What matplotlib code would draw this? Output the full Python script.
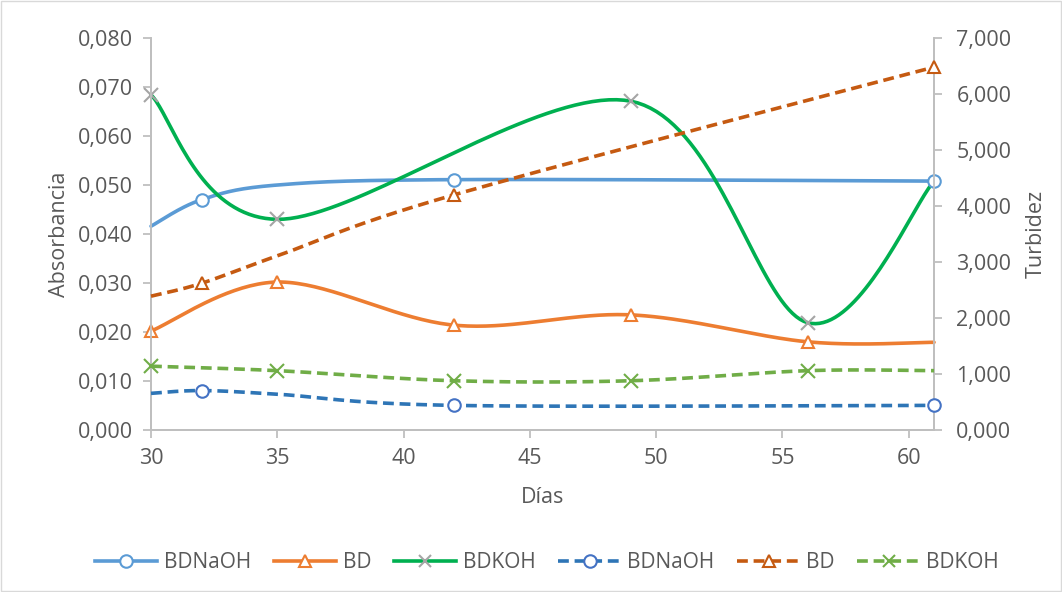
import numpy as np
import matplotlib
matplotlib.use("Agg")
import matplotlib.pyplot as plt
from matplotlib.patches import Rectangle

plt.rcParams['font.family'] = ['Open Sans', 'DejaVu Sans']

# Absorbancia (eje izquierdo)
x_naoh = [30, 32, 35, 42, 61]
abs_naoh = [0.0416, 0.0470, 0.0500, 0.0511, 0.0508]
mk_abs_naoh = [1, 3, 4]

x_bd = [30, 35, 42, 49, 56, 61]
abs_bd = [0.0202, 0.0302, 0.0214, 0.0235, 0.0180, 0.0179]
mk_abs_bd = [0, 1, 2, 3, 4]

x_koh = [30, 35, 49, 56, 61]
abs_koh = [0.0684, 0.0430, 0.0671, 0.0219, 0.0508]
mk_abs_koh = [0, 1, 2, 3]

# Turbidez (eje derecho)
x_tnaoh = [30, 32, 35, 42, 61]
tur_naoh = [655, 705, 640, 440, 440]
mk_tur_naoh = [1, 3, 4]

x_tbd = [30, 32, 35, 42, 61]
tur_bd = [2390, 2620, 3110, 4200, 6480]
mk_tur_bd = [1, 3, 4]

x_tkoh = [30, 35, 42, 49, 56, 61]
tur_koh = [1140, 1060, 880, 880, 1060, 1060]
mk_tur_koh = [0, 1, 2, 3, 4]

xlim = (30, 61)
ylim_abs = (0, 0.08)
ylim_tur = (0, 7000)


def smooth(x, y, sx, sy, n=40):
    # Excel-like smoothing (Bezier with 1/6 tension) in screen space
    p = np.column_stack([np.asarray(x, float) * sx, np.asarray(y, float) * sy])
    p = np.vstack([p[0], p, p[-1]])
    out = []
    t = np.linspace(0, 1, n)[:, None]
    for i in range(1, len(p) - 2):
        p0, p1, p2, p3 = p[i - 1], p[i], p[i + 1], p[i + 2]
        c1 = p1 + (p2 - p0) / 6
        c2 = p2 - (p3 - p1) / 6
        seg = ((1 - t) ** 3) * p1 + 3 * ((1 - t) ** 2) * t * c1 + 3 * (1 - t) * t ** 2 * c2 + t ** 3 * p2
        out.append(seg)
    out = np.vstack(out)
    return out[:, 0] / sx, out[:, 1] / sy


fig = plt.figure(figsize=(10.62, 5.92), dpi=100)
fig.patches.append(Rectangle((0.001, 0.001), 0.998, 0.997, transform=fig.transFigure,
                             fill=False, edgecolor='#D9D9D9', linewidth=1))
ax = fig.add_axes([0.1422, 0.2736, 0.7373, 0.6622])
ax2 = ax.twinx()

axw, axh = 783.0, 392.0
sx = axw / (xlim[1] - xlim[0])
sy1 = axh / ylim_abs[1]
sy2 = axh / ylim_tur[1]

series = [
    (ax, x_naoh, abs_naoh, mk_abs_naoh, sy1, '#5B9BD5', '-', 'o', '#5B9BD5', 'BDNaOH'),
    (ax, x_bd, abs_bd, mk_abs_bd, sy1, '#ED7D31', '-', '^', '#ED7D31', 'BD'),
    (ax, x_koh, abs_koh, mk_abs_koh, sy1, '#00B050', '-', 'x', '#A5A5A5', 'BDKOH'),
    (ax2, x_tnaoh, tur_naoh, mk_tur_naoh, sy2, '#2E75B6', '--', 'o', '#4472C4', 'BDNaOH'),
    (ax2, x_tbd, tur_bd, mk_tur_bd, sy2, '#C55A11', '--', '^', '#C55A11', 'BD'),
    (ax2, x_tkoh, tur_koh, mk_tur_koh, sy2, '#70AD47', '--', 'x', '#70AD47', 'BDKOH'),
]

handles = []
for a, xs, ys, mk, sy, col, ls, m, mcol, lab in series:
    xsm, ysm = smooth(xs, ys, sx, sy)
    a.plot(xsm, ysm, color=col, lw=2.6, ls=ls, dashes=(3, 1.6) if ls == '--' else (None, None),
           solid_capstyle='round', clip_on=False, zorder=3)
    mx = [xs[i] for i in mk]
    my = [ys[i] for i in mk]
    a.plot(mx, my, ls='none', marker=m, ms=9 if m != 'x' else 10, mfc='white' if m != 'x' else mcol,
           mec=mcol, mew=1.5, clip_on=False, zorder=4)
    h, = plt.plot([], [], color=col, lw=2.6, ls=ls, marker=m, ms=9, mfc='white', mec=mcol, mew=1.5,
                  label=lab)
    if ls == '--':
        h.set_dashes((3, 1.6))
    handles.append(h)

tick_col = '#595959'
for a in (ax, ax2):
    a.set_xlim(*xlim)
    a.spines['top'].set_visible(False)
    for s in ('left', 'right', 'bottom'):
        a.spines[s].set_color('#BFBFBF')
        a.spines[s].set_linewidth(1.3)
    a.tick_params(colors='#BFBFBF', labelcolor=tick_col, labelsize=15.5, length=6, width=1.3)

ax.set_ylim(*ylim_abs)
ax2.set_ylim(*ylim_tur)
ax.set_xticks(np.arange(30, 61, 5))
ax.set_yticks(np.arange(0, 0.0801, 0.01))
ax.set_yticklabels([('%.3f' % v).replace('.', ',') for v in np.arange(0, 0.0801, 0.01)])
ax2.set_yticks(np.arange(0, 7001, 1000))
ax2.set_yticklabels(['%d,000' % (v // 1000) for v in range(0, 7001, 1000)])
ax.tick_params(axis='x', pad=7)
ax.tick_params(axis='y', pad=7)
ax2.tick_params(axis='y', pad=10)

ax.set_xlabel('Días', fontsize=15.5, color=tick_col, labelpad=13)
ax.set_ylabel('Absorbancia', fontsize=15.5, color=tick_col, labelpad=6)
ax2.set_ylabel('Turbidez', fontsize=15.5, color=tick_col, labelpad=10)

fig.legend(handles=handles, loc='center', bbox_to_anchor=(0.515, 0.05), ncol=6, frameon=False,
           fontsize=15, labelcolor=tick_col, handlelength=3.0, columnspacing=1.1, handletextpad=0.3)

fig.savefig('out.png', dpi=100)
